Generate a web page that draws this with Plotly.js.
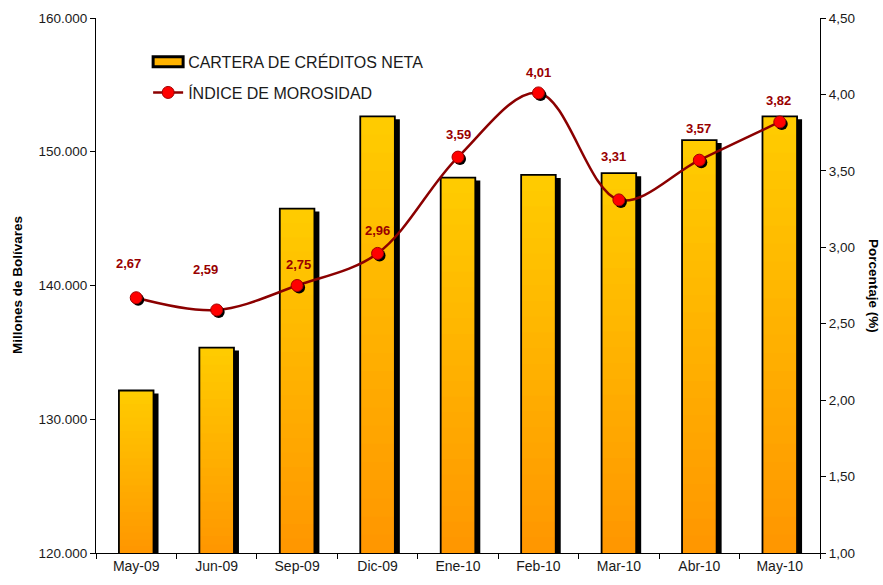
<!DOCTYPE html>
<html>
<head>
<meta charset="utf-8">
<script src="https://cdn.plot.ly/plotly-3.0.1.min.js"></script>
<style>
  html, body { margin: 0; padding: 0; background: #fff; }
  #chart { width: 883px; height: 585px; }
</style>
</head>
<body>
<div id="chart"></div>
<script>
// ---- data ----
const categories = ['May-09', 'Jun-09', 'Sep-09', 'Dic-09', 'Ene-10', 'Feb-10', 'Mar-10', 'Abr-10', 'May-10'];
const cartera = [132150, 135360, 145750, 152650, 148070, 148270, 148400, 150870, 152650];
const morosidad = [2.67, 2.59, 2.75, 2.96, 3.59, 4.01, 3.31, 3.57, 3.82];
const seriesNames = ['CARTERA DE CRÉDITOS NETA', 'ÍNDICE DE MOROSIDAD'];

// label pixel offsets (style only)
const labelYShift = [34, 40, 21, 23, 23, 20, 43, 32, 21];
const labelXShift = [-8, -11, 1, 0, 0, 0, -5, -1, -1];

const FONT = 'Liberation Sans, Arial, sans-serif';
const Y_MIN = 120000;
const BAR_W = 0.43;

// gradient bands (style): top colour -> bottom colour, per bar
const TOP_RGB = [255, 204, 0];
const BOT_RGB = [255, 150, 0];
const N_BANDS = 24;

const traces = [];
for (let k = 0; k < N_BANDS; k++) {
  const frac = 1 - k / N_BANDS;
  const t = (k + 0.5) / N_BANDS;
  const c = TOP_RGB.map((a, j) => Math.round(a + (BOT_RGB[j] - a) * t));
  traces.push({
    type: 'bar', x: categories,
    y: cartera.map(v => (v - Y_MIN) * frac), base: Y_MIN,
    width: BAR_W,
    marker: { color: 'rgb(' + c.join(',') + ')', line: { width: 0 } },
    yaxis: 'y', showlegend: false, hoverinfo: 'skip'
  });
}
// outline (and legend entry) for the bars
traces.push({
  type: 'bar',
  name: seriesNames[0],
  x: categories,
  y: cartera,
  width: BAR_W,
  marker: { color: 'rgba(0,0,0,0)', line: { color: '#000000', width: 1.8 } },
  yaxis: 'y',
  legendgroup: 'a'
});
traces.push({
  type: 'scatter',
  mode: 'lines+markers',
  name: seriesNames[1],
  x: categories,
  y: morosidad,
  yaxis: 'y2',
  line: { color: '#8B0000', width: 2.5, shape: 'spline', smoothing: 1 },
  marker: { color: '#FF0000', size: 12, line: { color: '#A00000', width: 1 } },
  legendgroup: 'b'
});

const annotations = morosidad.map((v, i) => ({
  x: categories[i], y: v, xref: 'x', yref: 'y2',
  text: v.toFixed(2).replace('.', ','),
  showarrow: false,
  xshift: labelXShift[i], yshift: labelYShift[i],
  font: { family: FONT, size: 13, color: '#990000', weight: 'bold' }
}));
annotations.push({
  xref: 'paper', yref: 'paper', x: 0, y: 0.5, xshift: -88,
  text: 'Millones de Bolívares', textangle: -90, showarrow: false,
  font: { family: FONT, size: 13.5, color: '#000', weight: 'bold' }
});
annotations.push({
  xref: 'paper', yref: 'paper', x: 1, y: 0.5, xshift: 63,
  text: 'Porcentaje (%)', textangle: 90, showarrow: false,
  font: { family: FONT, size: 13.5, color: '#000', weight: 'bold' }
});

const layout = {
  width: 883, height: 585,
  margin: { l: 96, r: 63, t: 18, b: 32, pad: 0 },
  paper_bgcolor: '#ffffff', plot_bgcolor: '#ffffff',
  separators: ',.',
  font: { family: FONT, size: 13.5, color: '#1a1a1a' },
  showlegend: true,
  barmode: 'overlay',
  legend: {
    x: 0.072, y: 0.95, xanchor: 'left', yanchor: 'top',
    bgcolor: 'rgba(0,0,0,0)',
    font: { family: FONT, size: 16, color: '#1a1a1a' },
    traceorder: 'grouped', tracegroupgap: 7, itemwidth: 30
  },
  xaxis: {
    type: 'category', showgrid: false, zeroline: false,
    showline: true, linecolor: '#000', linewidth: 1,
    ticks: 'outside', ticklen: 5, tickcolor: '#000', tickson: 'boundaries',
    tickfont: { family: FONT, size: 14, color: '#1a1a1a' },
    range: [-0.5, 8.5]
  },
  yaxis: {
    range: [120000, 160000], dtick: 10000, tick0: 120000,
    tickformat: ',.0f', showgrid: false, zeroline: false,
    showline: true, linecolor: '#000', linewidth: 1,
    ticks: 'outside', ticklen: 5, tickcolor: '#000',
    tickfont: { family: FONT, size: 13.5, color: '#1a1a1a' }
  },
  yaxis2: {
    overlaying: 'y', side: 'right',
    range: [1, 4.5], dtick: 0.5, tick0: 1,
    tickformat: '.2f', showgrid: false, zeroline: false,
    showline: true, linecolor: '#000', linewidth: 1,
    ticks: 'outside', ticklen: 5, tickcolor: '#000',
    tickfont: { family: FONT, size: 13.5, color: '#1a1a1a' }
  },
  annotations: annotations
};

const gd = document.getElementById('chart');
Plotly.newPlot(gd, traces, layout, { staticPlot: true }).then(() => {
  const NS = 'http://www.w3.org/2000/svg';
  const barTraces = gd.querySelectorAll('.barlayer .trace');
  const outlineTrace = barTraces[barTraces.length - 1];
  const barlayer = outlineTrace.parentNode;
  const shadowG = document.createElementNS(NS, 'g');
  outlineTrace.querySelectorAll('.point path').forEach(p => {
    const sh = p.cloneNode(true);
    sh.style.fill = '#000'; sh.style.fillOpacity = '1'; sh.style.stroke = 'none';
    sh.setAttribute('transform', 'translate(5,3)');
    shadowG.appendChild(sh);
  });
  barlayer.insertBefore(shadowG, barlayer.firstChild);

  // markers: drop shadow
  gd.querySelectorAll('.scatterlayer .trace .points path').forEach(p => {
    const sh = p.cloneNode(true);
    const t = p.getAttribute('transform') || '';
    sh.setAttribute('transform', t + ' translate(2,2)');
    sh.style.fill = '#000'; sh.style.stroke = 'none';
    p.parentNode.insertBefore(sh, p);
  });

  // legend bar symbol: wide rectangle
  gd.querySelectorAll('.legend .traces').forEach((tr, i) => {
    if (i === 0) {
      tr.querySelectorAll('.legendpoints path').forEach(p => {
        p.setAttribute('d', 'M15,5H-15V-5H15Z');
        p.style.fill = '#FFB300'; p.style.fillOpacity = '1';
        p.style.stroke = '#000'; p.style.strokeWidth = '3px';
      });
    }
  });
});
</script>
</body>
</html>
